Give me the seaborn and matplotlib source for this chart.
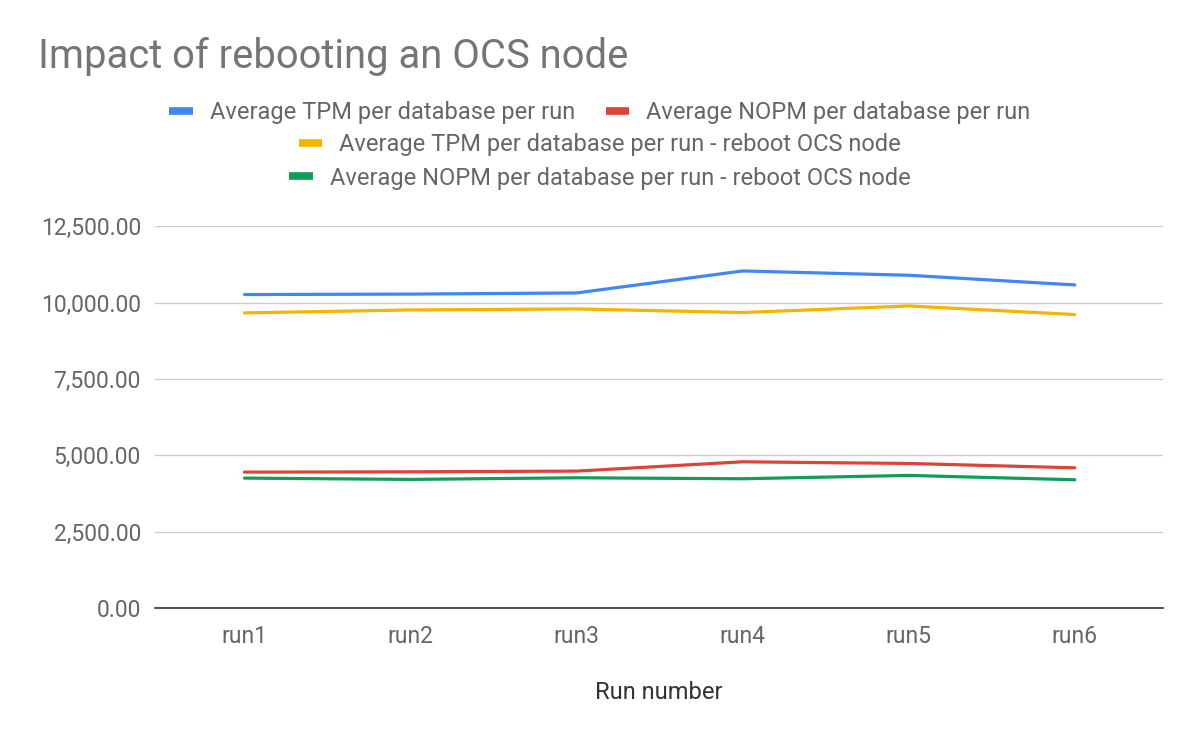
import pandas as pd
import numpy as np
import matplotlib
matplotlib.use("Agg")
import matplotlib.pyplot as plt
import seaborn as sns
from matplotlib.lines import Line2D
from matplotlib.ticker import FuncFormatter

# ========== DATOS ==========
runs = ["run1", "run2", "run3", "run4", "run5", "run6"]
tpm = [10265, 10280, 10318, 11038, 10897, 10580]
nopm = [4450, 4460, 4483, 4788, 4733, 4591]
tpm_reboot = [9664, 9761, 9794, 9676, 9892, 9610]
nopm_reboot = [4254, 4211, 4265, 4232, 4342, 4199]

series_names = [
    "Average TPM per database per run",
    "Average NOPM per database per run",
    "Average TPM per database per run - reboot OCS node",
    "Average NOPM per database per run - reboot OCS node",
]
colors = ["#4285F4", "#DB4437", "#F4B400", "#0F9D58"]

df = pd.DataFrame({
    "run": runs * 4,
    "value": tpm + nopm + tpm_reboot + nopm_reboot,
    "series": np.repeat(series_names, len(runs)),
})

# ========== GRAFICA ==========
sns.set_style("white")
plt.rcParams["font.family"] = ["Roboto", "DejaVu Sans"]

fig = plt.figure(figsize=(12, 7.42), dpi=100)
ax = fig.add_axes([0.129, 0.1806, 0.84, 0.5144])

sns.lineplot(data=df, x="run", y="value", hue="series", palette=colors,
             hue_order=series_names, linewidth=2.3, sort=False, ax=ax, legend=False)

ax.set_ylim(0, 12500)
ax.set_xlim(-0.54, 5.53)
ax.set_yticks(np.arange(0, 12501, 2500))
ax.yaxis.set_major_formatter(FuncFormatter(lambda v, p: f"{v:,.2f}"))
ax.grid(axis="y", color="#cccccc", linewidth=1)
ax.set_axisbelow(True)
for s in ["top", "right", "left"]:
    ax.spines[s].set_visible(False)
ax.spines["bottom"].set_color("#333333")
ax.spines["bottom"].set_linewidth(1.2)
ax.tick_params(axis="both", length=0, labelsize=16.5, labelcolor="#666666")
ax.tick_params(axis="y", pad=10)
ax.tick_params(axis="x", pad=12)
ax.set_ylabel("")
ax.set_xlabel("Run number", fontsize=17, color="#333333", labelpad=24)

fig.text(38 / 1200, 1 - 56 / 742, "Impact of rebooting an OCS node",
         fontsize=28.8, color="#757575", va="center", ha="left")

# leyenda en tres filas
handles = [Line2D([0], [0], color=c, linewidth=5.5, solid_capstyle="butt") for c in colors]
rows = [([0, 1], 113), ([2], 145), ([3], 178)]
for idx, ypix in rows:
    fig.legend([handles[i] for i in idx], [series_names[i] for i in idx],
               loc="center", bbox_to_anchor=(0.5, 1 - ypix / 742), ncol=len(idx),
               frameon=False, fontsize=17, handlelength=1.0, handletextpad=0.72,
               columnspacing=1.3, labelcolor="#666666")

fig.savefig("out.png", dpi=100)
